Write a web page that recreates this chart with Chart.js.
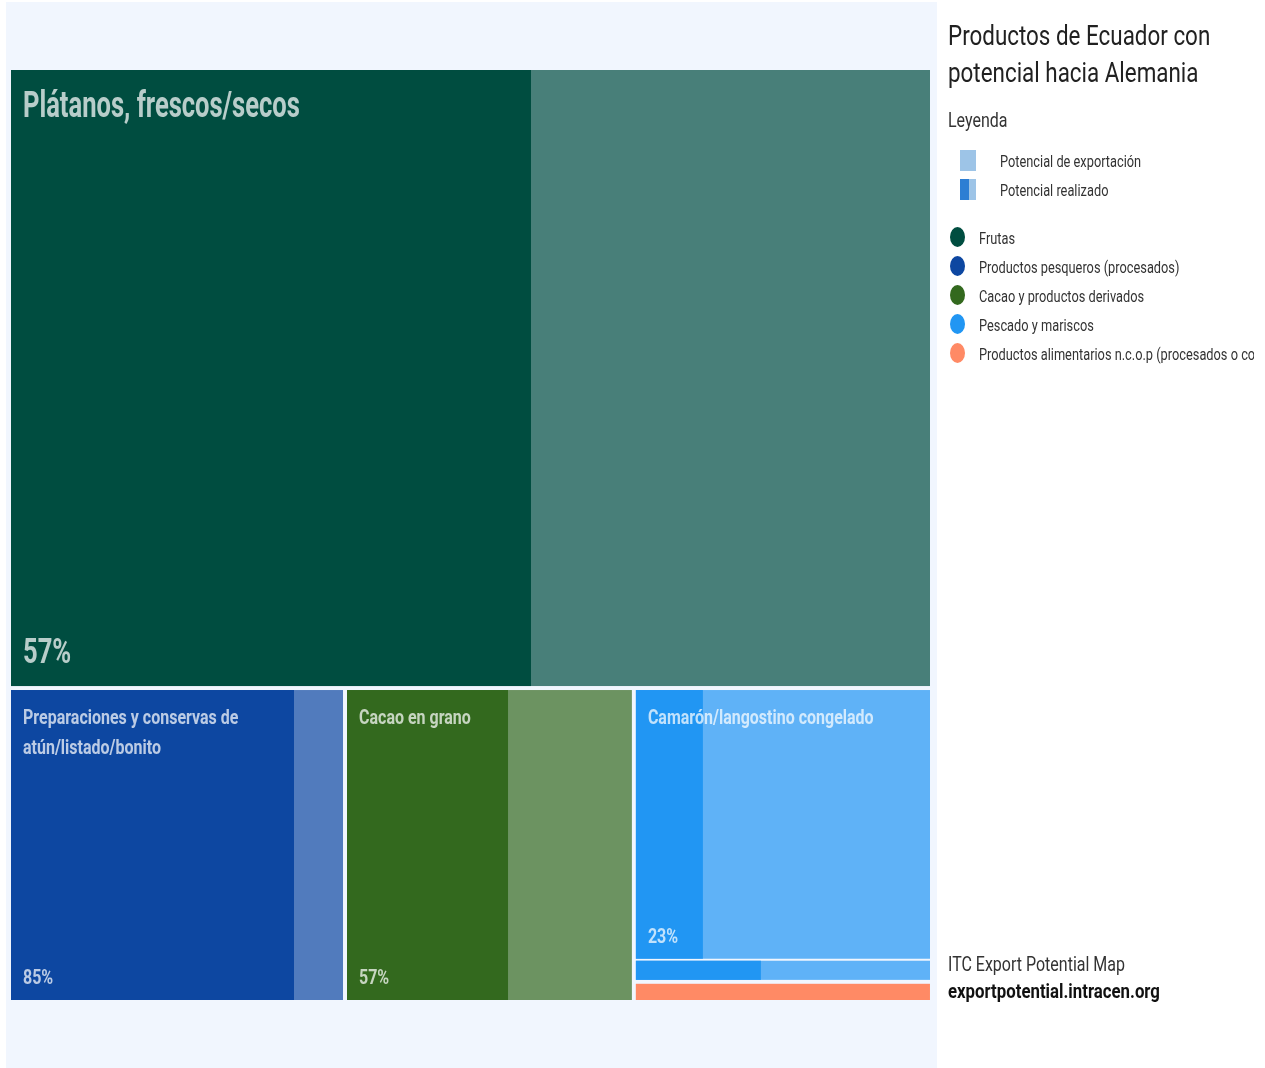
<!DOCTYPE html>
<html><head><meta charset="utf-8">
<script src="https://cdn.jsdelivr.net/npm/chart.js@4.4.1/dist/chart.umd.min.js"></script>
<style>
html,body{margin:0;padding:0;background:#fff;overflow:hidden;width:1265px;height:1068px;}
#wrap{position:absolute;left:0;top:0;width:1265px;height:1068px;}
#c{position:absolute;left:0;top:0;}
.t{position:absolute;white-space:nowrap;font-family:Roboto,sans-serif;color:#212121;transform:scaleX(0.8);transform-origin:0 0;line-height:1;}
#legend{position:absolute;left:940px;top:0;width:314px;height:1068px;overflow:hidden;}
.mk{position:absolute;}
</style></head><body>
<div id="wrap"><canvas id="c" width="1265" height="1068"></canvas><div id="legend"></div></div>
<script>
// ---- data ----
const groups = ["Frutas", "Productos pesqueros (procesados)", "Cacao y productos derivados", "Pescado y mariscos", "Productos alimentarios n.c.o.p (procesados o conservados)"];
const groupColors = ["#004d40", "#0d47a1", "#33691e", "#2196f3", "#ff8a65"];
const products = ["Plátanos, frescos/secos", "Preparaciones y conservas de atún/listado/bonito", "Cacao en grano", "Camarón/langostino congelado", "Pescado congelado", "Preparaciones alimenticias n.c.o.p."];
const productGroup = [0, 1, 2, 3, 3, 4];
const exportPotential = [572.3, 105.5, 90.7, 81.0, 6.6, 6.0];
const realizedPct = [56.6, 85.2, 56.5, 22.8, 42.5, 100];
const legendTitle = ["Productos de Ecuador con", "potencial hacia Alemania"];
const legendHeading = "Leyenda";
const legendKeys = ["Potencial de exportación", "Potencial realizado"];
const sourceLines = ["ITC Export Potential Map", "exportpotential.intracen.org"];

function squarify(items, x, y, w, h) {
  const total = items.reduce((s, d) => s + d.v, 0);
  const k = w * h / total;
  let rest = items.map(d => ({ d, a: d.v * k }));
  const out = [];
  function worst(row, side) {
    const s = row.reduce((t, r) => t + r.a, 0);
    let mx = -Infinity, mn = Infinity;
    row.forEach(r => { mx = Math.max(mx, r.a); mn = Math.min(mn, r.a); });
    return Math.max(side * side * mx / (s * s), s * s / (side * side * mn));
  }
  while (rest.length) {
    const side = Math.min(w, h);
    const row = [rest[0]]; let i = 1;
    while (i < rest.length && worst(row.concat([rest[i]]), side) <= worst(row, side)) { row.push(rest[i]); i++; }
    rest = rest.slice(row.length);
    const s = row.reduce((t, r) => t + r.a, 0);
    if (w < h) {
      const rh = s / w; let xx = x;
      row.forEach(r => { const rw = r.a / rh; out.push({ d: r.d, x: xx, y: y, w: rw, h: rh }); xx += rw; });
      y += rh; h -= rh;
    } else {
      const cw = s / h; let yy = y;
      row.forEach(r => { const ch = r.a / cw; out.push({ d: r.d, x: x, y: yy, w: cw, h: ch }); yy += ch; });
      x += cw; w -= cw;
    }
  }
  return out;
}

function hexA(hex, a) {
  const n = parseInt(hex.slice(1), 16);
  return `rgba(${(n >> 16) & 255},${(n >> 8) & 255},${n & 255},${a})`;
}

function wrapLines(ctx, text, maxW, sx) {
  const words = text.split(' ');
  const lines = []; let cur = '';
  words.forEach(wd => {
    const test = cur ? cur + ' ' + wd : wd;
    if (cur && ctx.measureText(test).width * sx > maxW) { lines.push(cur); cur = wd; }
    else cur = test;
  });
  if (cur) lines.push(cur);
  return lines;
}
function sText(ctx, txt, x, y, sx) {
  ctx.save(); ctx.translate(x, y); ctx.scale(sx, 1); ctx.fillText(txt, 0, 0); ctx.restore();
}

const bgPlugin = {
  id: 'panelBg',
  beforeDraw(chart) {
    const c = chart.ctx; c.save(); c.fillStyle = '#f1f6fe'; c.fillRect(6, 2, 931, 1066); c.restore();
  }
};

const treemapPlugin = {
  id: 'treemapCells',
  afterDatasetsDraw(chart) {
    const ctx = chart.ctx, xs = chart.scales.x, ys = chart.scales.y, ca = chart.chartArea;
    const A = ca.width / ca.height;
    const gItems = groups.map((g, gi) => ({ gi, v: 0, kids: [] }));
    exportPotential.forEach((v, i) => { const g = gItems[productGroup[i]]; g.v += v; g.kids.push(i); });
    const sorted = gItems.filter(g => g.v > 0).sort((a, b) => b.v - a.v);
    const gRects = squarify(sorted, 0, 0, A, 1);
    const toPx = r => ({
      x0: xs.getPixelForValue(r.x / A), x1: xs.getPixelForValue((r.x + r.w) / A),
      y0: ys.getPixelForValue(r.y), y1: ys.getPixelForValue(r.y + r.h)
    });
    gRects.forEach(gr => {
      const g = gr.d;
      const gp = toPx(gr);
      const gx0 = gp.x0 + 2, gx1 = gp.x1 - 2, gy0 = gp.y0 + 2, gy1 = gp.y1 - 2;
      const kids = g.kids.slice().sort((a, b) => exportPotential[b] - exportPotential[a]);
      let yy = gr.y;
      kids.forEach(i => {
        const ih = gr.h * exportPotential[i] / g.v;
        const ip = toPx({ x: gr.x, y: yy, w: gr.w, h: ih });
        yy += ih;
        const x0 = Math.max(ip.x0 + 1, gx0), x1 = Math.min(ip.x1 - 1, gx1);
        const y0 = Math.max(ip.y0 + 1, gy0), y1 = Math.min(ip.y1 - 1, gy1);
        const w = x1 - x0, h = y1 - y0;
        const col = groupColors[productGroup[i]];
        ctx.save();
        ctx.fillStyle = hexA(col, 0.7);
        ctx.fillRect(x0, y0, w, h);
        ctx.fillStyle = col;
        ctx.fillRect(x0, y0, Math.round(w * Math.min(realizedPct[i], 100) / 100), h);
        if (h >= 100 && w >= 100) {
          const big = h > 400;
          const fs = big ? 37 : 20, sx = big ? 0.69 : 0.8;
          ctx.fillStyle = 'rgba(255,255,255,0.72)';
          ctx.font = `bold ${fs}px Roboto, sans-serif`;
          ctx.textBaseline = 'alphabetic';
          const lines = wrapLines(ctx, products[i], w - 40, sx);
          lines.forEach((ln, k) => sText(ctx, ln, x0 + 12, y0 + (big ? 21 : 20) + 0.711 * fs + k * 30, sx));
          const pfs = big ? 35 : 20, psx = big ? 0.73 : 0.8;
          ctx.font = `bold ${pfs}px Roboto, sans-serif`;
          sText(ctx, Math.round(realizedPct[i]) + '%', x0 + 12, y1 - (big ? 23 : 16), psx);
        }
        ctx.restore();
      });
    });
  }
};

new Chart(document.getElementById('c'), {
  type: 'scatter',
  data: { datasets: [{ label: 'Potencial de exportación', data: [], pointRadius: 0 }] },
  options: {
    responsive: false, animation: false, events: [],
    layout: { padding: { left: 9, top: 68, right: 333, bottom: 66 } },
    scales: {
      x: { type: 'linear', min: 0, max: 1, display: false },
      y: { type: 'linear', min: 0, max: 1, reverse: true, display: false }
    },
    plugins: { legend: { display: false }, tooltip: { enabled: false } }
  },
  plugins: [bgPlugin, treemapPlugin]
});

// ---- legend (HTML) ----
const L = document.getElementById('legend');
function addText(txt, x, baseline, fs, weight, color) {
  const d = document.createElement('div');
  d.className = 't';
  d.textContent = txt;
  d.style.left = (x - 940) + 'px';
  d.style.top = (baseline - 0.8415 * fs) + 'px';
  d.style.fontSize = fs + 'px';
  d.style.fontWeight = weight || 400;
  if (color) d.style.color = color;
  L.appendChild(d);
}
function addBox(x, y, w, h, bg, radius) {
  const d = document.createElement('div');
  d.className = 'mk';
  d.style.left = (x - 940) + 'px'; d.style.top = y + 'px';
  d.style.width = w + 'px'; d.style.height = h + 'px';
  d.style.background = bg;
  if (radius) d.style.borderRadius = radius;
  L.appendChild(d);
}
legendTitle.forEach((t, k) => addText(t, 948, 46 + k * 37, 28, 400, '#212121'));
addText(legendHeading, 948, 127, 20, 400, '#333');
addBox(960, 150, 16, 21, '#9dc4e7');
addBox(960, 179, 16, 21, '#9dc4e7');
addBox(960, 179, 9, 21, '#2d7ed3');
legendKeys.forEach((t, k) => addText(t, 1000, 167 + k * 29, 16, 400, '#333'));
groups.forEach((g, k) => {
  addBox(950, 227 + k * 29, 15, 20, groupColors[k], '50%');
  addText(g, 979, 244 + k * 29, 16, 400, '#333');
});
addText(sourceLines[0], 948, 971, 20, 400, '#333');
addText(sourceLines[1], 948, 999, 21, 700, '#111');
</script>
</body></html>
